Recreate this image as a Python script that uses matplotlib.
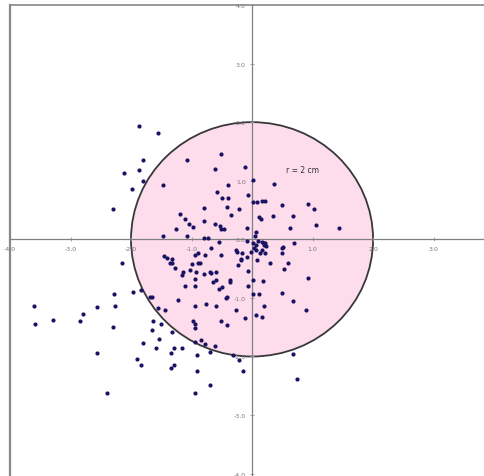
import matplotlib
matplotlib.use("Agg")
import matplotlib.pyplot as plt
from matplotlib.patches import Circle
import numpy as np

plt.rcParams['axes.unicode_minus'] = False

# impact points (cm)
xs = [-1.87, -1.56, -1.81, -2.11, -1.87, -1.81, -1.99, -2.30, -1.47, -0.52,
      -1.07, -0.61, -0.12, 0.01, 0.37, -0.39, -0.58, -0.49, -0.39, -0.06,
      -0.80, -0.42, -0.21, 0.01, 0.09, 0.17, 0.21, 0.49, -1.19, -1.11,
      -1.04, -0.98, -1.25, -0.80, -0.34, -0.61, -0.53, -0.51, -0.46, -0.08,
      0.12, 0.14, 0.34, 0.68, 0.62, 0.93, 1.02, 1.05, 1.43, 0.06,
      0.05, -1.47, -1.07, -0.80, -0.73, -0.55, 0.70, 0.51, -0.08, 0.01,
      0.06, 0.10, 0.17, 0.19, 0.20, 0.23, 0.22, 0.04, 0.07, -0.01,
      0.17, 0.21, 0.13, 0.09, 0.30, 0.49, 0.49, 0.59, 0.53, -0.27,
      -0.25, -0.17, -0.18, -0.24, -0.08, -0.19, -0.68, -0.52, -0.77, -0.90,
      -0.86, -0.89, -0.94, -1.00, -1.03, -1.14, -1.15, -1.28, -1.36, -1.46,
      -1.41, -1.33, -1.32, -0.69, -0.67, -0.60, -0.80, -0.92, -0.95, -0.64,
      -0.59, -0.55, -0.50, -0.37, -0.36, -0.41, -0.43, -0.59, -0.76, -0.94,
      -0.95, -1.11, -1.22, -0.06, 0.01, 0.18, 0.02, 0.12, 0.19, -0.06,
      -0.27, -0.52, -0.42, -0.12, 0.07, 0.16, 0.50, 0.68, 0.89, 0.93,
      -0.98, -0.94, -0.94, -0.84, -0.78, -0.95, -0.61, -0.69, -0.31, -0.21,
      -0.15, 0.68, 0.74, -0.91, -0.91, -0.70, -0.95, -2.40, -1.83, -1.97,
      -1.68, -1.65, -2.28, -2.26, -2.15, -1.56, -1.44, -1.63, -1.50, -1.65,
      -1.32, -1.54, -1.81, -1.59, -1.29, -1.16, -1.34, -1.90, -1.84, -1.29,
      -1.34, -2.30, -2.57, -2.79, -2.85, -3.29, -3.61, -3.59, -2.57]
ys = [1.94, 1.82, 1.35, 1.13, 1.18, 0.99, 0.86, 0.51, 0.93, 1.45,
      1.35, 1.20, 1.23, 1.01, 0.95, 0.93, 0.81, 0.71, 0.71, 0.76,
      0.54, 0.56, 0.51, 0.64, 0.64, 0.66, 0.66, 0.58, 0.44, 0.34,
      0.27, 0.21, 0.18, 0.31, 0.41, 0.26, 0.23, 0.18, 0.18, 0.20,
      0.38, 0.34, 0.40, 0.40, 0.20, 0.61, 0.51, 0.25, 0.20, 0.12,
      0.05, 0.05, 0.05, 0.03, 0.03, -0.05, -0.06, -0.13, -0.02, -0.06,
      -0.10, -0.03, -0.05, -0.07, -0.10, -0.12, -0.06, -0.14, -0.18, -0.21,
      -0.19, -0.24, -0.24, -0.36, -0.40, -0.14, -0.24, -0.40, -0.51, -0.19,
      -0.21, -0.23, -0.34, -0.43, -0.31, -0.36, -0.14, -0.26, -0.27, -0.24,
      -0.41, -0.40, -0.27, -0.42, -0.53, -0.56, -0.61, -0.49, -0.40, -0.28,
      -0.32, -0.33, -0.40, -0.55, -0.58, -0.55, -0.59, -0.55, -0.67, -0.73,
      -0.69, -0.84, -0.81, -0.69, -0.73, -0.99, -1.01, -1.14, -1.10, -1.13,
      -0.79, -0.80, -1.03, -0.54, -0.70, -0.71, -0.93, -0.93, -1.14, -0.79,
      -1.21, -1.39, -1.47, -1.35, -1.29, -1.33, -0.91, -1.06, -1.20, -0.66,
      -1.40, -1.44, -1.51, -1.71, -1.79, -1.75, -1.82, -1.92, -1.98, -2.06,
      -2.24, -1.96, -2.39, -1.98, -2.24, -2.49, -2.63, -2.63, -0.87, -0.90,
      -0.98, -0.98, -0.93, -1.13, -0.41, -1.18, -1.20, -1.39, -1.45, -1.54,
      -1.59, -1.70, -1.77, -1.86, -1.86, -1.86, -1.94, -2.05, -2.14, -2.14,
      -2.20, -1.50, -1.15, -1.28, -1.39, -1.37, -1.13, -1.45, -1.94]

radius = 2.0
xticks = [-4, -3, -2, -1, 0, 1, 2, 3]
yticks = [-4, -3, -2, -1, 0, 1, 2, 3, 4]

fig = plt.figure(figsize=(4.85, 4.77), dpi=100)
ax = fig.add_axes([10 / 485, 0, 475 / 485, 471 / 477])
ax.set_xlim(-4, 3.85)
ax.set_ylim(-4.04, 4.0)

ax.add_patch(Circle((0, 0), radius, facecolor='#fddcec',
                    edgecolor='#383838', linewidth=1.3, zorder=1))
ax.plot(xs, ys, 'o', color='#1a1262', markersize=3.0, markeredgewidth=0, zorder=4)

ax.text(0.84, 1.2, 'r = 2 cm', fontsize=5.5, color='#333333',
        ha='center', va='center', zorder=5)

# axes through the origin
ax.spines['left'].set_position(('data', 0))
ax.spines['bottom'].set_position(('data', 0))
ax.spines['right'].set_visible(False)
for s in ['left', 'bottom']:
    ax.spines[s].set_color('#808080')
    ax.spines[s].set_linewidth(0.9)
ax.spines['top'].set_color('#888888')
ax.spines['top'].set_linewidth(1.2)
ax.axvline(-4, color='#888888', linewidth=1.6, clip_on=False, zorder=3)

ax.set_xticks(xticks)
ax.set_yticks(yticks)
ax.set_xticklabels(['' if t == 0 else '%.1f' % t for t in xticks])
ax.set_yticklabels(['%.1f' % t for t in yticks])
ax.tick_params(direction='inout', length=3, width=0.6, colors='#999999',
               labelsize=4.5, labelcolor='#777777', pad=3)

fig.savefig('out.png', dpi=100)
